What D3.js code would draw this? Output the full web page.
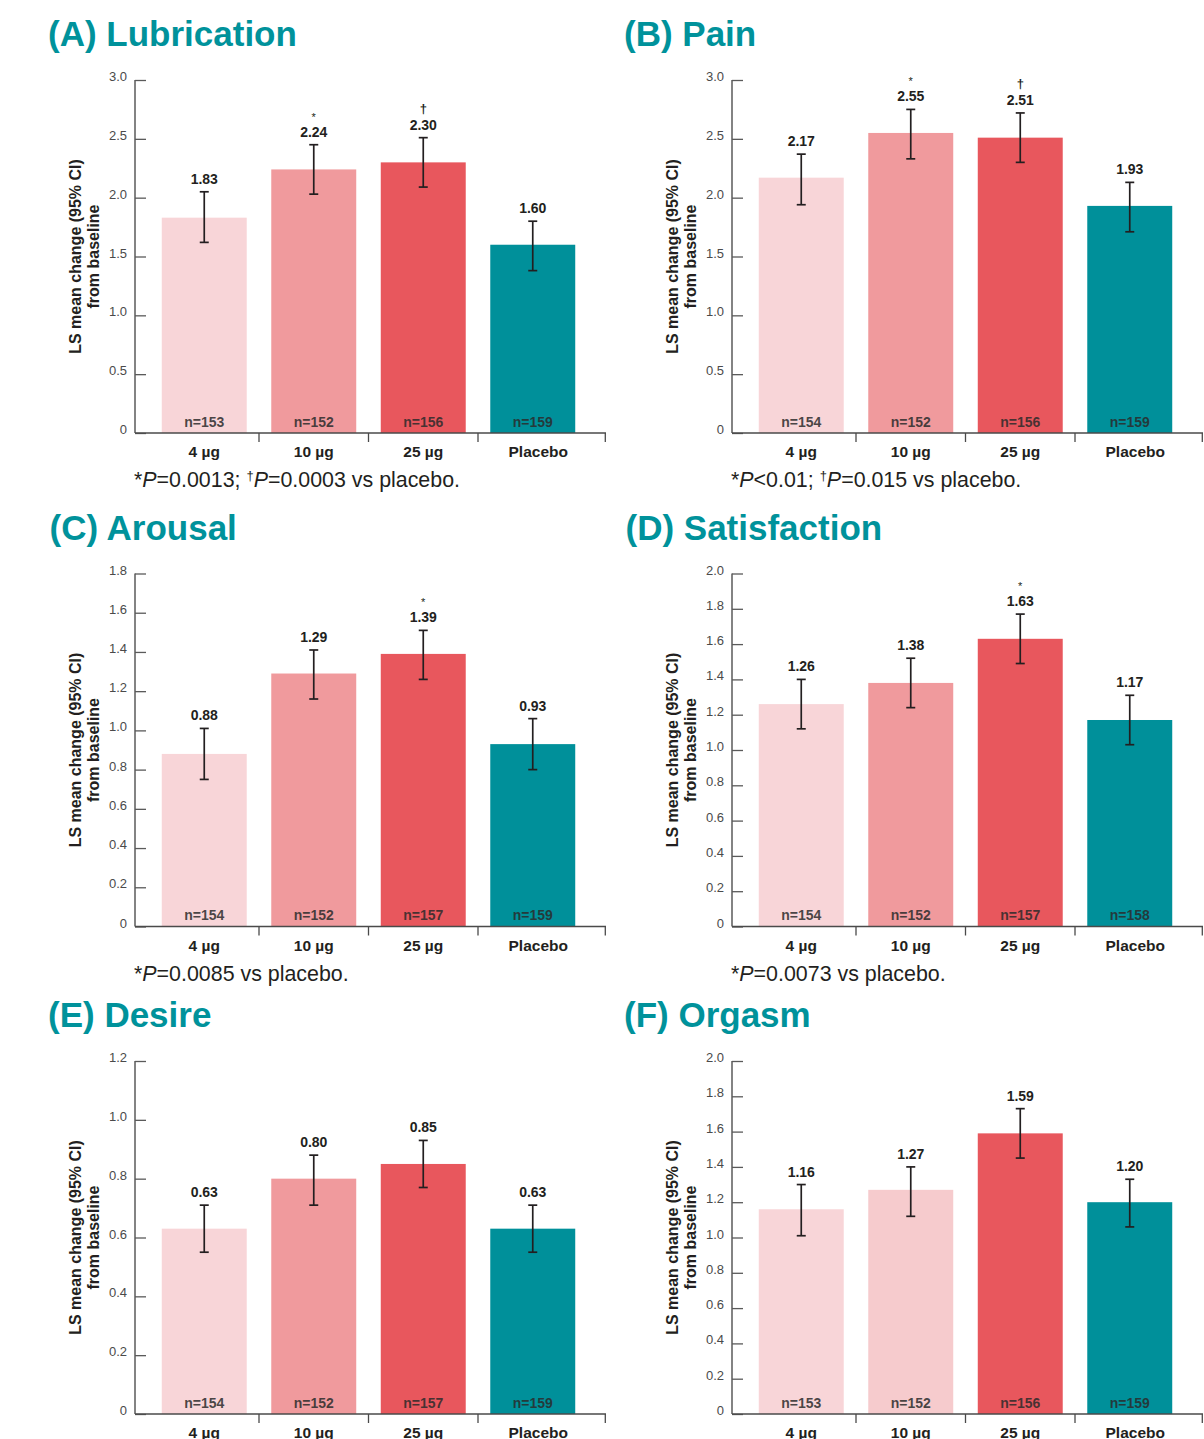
<!DOCTYPE html>
<html>
<head>
<meta charset="utf-8">
<script src="https://cdn.jsdelivr.net/npm/d3@7"></script>
<style>
  html, body { margin: 0; padding: 0; background: #fff; }
  svg { display: block; font-family: "Liberation Sans", Arial, Helvetica, sans-serif; }
</style>
</head>
<body>
<svg id="chart" width="1204" height="1439"></svg>
<script>
// ---------------- DATA ----------------
const categories = ["4 µg", "10 µg", "25 µg", "Placebo"];

const panelTitles = ["(A) Lubrication", "(B) Pain", "(C) Arousal", "(D) Satisfaction", "(E) Desire", "(F) Orgasm"];

const yMax = [3.0, 3.0, 1.8, 2.0, 1.2, 2.0];
const yTickStep = [0.5, 0.5, 0.2, 0.2, 0.2, 0.2];

const lubricationValues = [1.83, 2.24, 2.30, 1.60];
const lubricationLow    = [1.62, 2.03, 2.09, 1.38];
const lubricationHigh   = [2.05, 2.45, 2.51, 1.80];
const lubricationN      = [153, 152, 156, 159];
const lubricationMarks  = ["", "*", "†", ""];

const painValues = [2.17, 2.55, 2.51, 1.93];
const painLow    = [1.94, 2.33, 2.30, 1.71];
const painHigh   = [2.37, 2.75, 2.72, 2.13];
const painN      = [154, 152, 156, 159];
const painMarks  = ["", "*", "†", ""];

const arousalValues = [0.88, 1.29, 1.39, 0.93];
const arousalLow    = [0.75, 1.16, 1.26, 0.80];
const arousalHigh   = [1.01, 1.41, 1.51, 1.06];
const arousalN      = [154, 152, 157, 159];
const arousalMarks  = ["", "", "*", ""];

const satisfactionValues = [1.26, 1.38, 1.63, 1.17];
const satisfactionLow    = [1.12, 1.24, 1.49, 1.03];
const satisfactionHigh   = [1.40, 1.52, 1.77, 1.31];
const satisfactionN      = [154, 152, 157, 158];
const satisfactionMarks  = ["", "", "*", ""];

const desireValues = [0.63, 0.80, 0.85, 0.63];
const desireLow    = [0.55, 0.71, 0.77, 0.55];
const desireHigh   = [0.71, 0.88, 0.93, 0.71];
const desireN      = [154, 152, 157, 159];
const desireMarks  = ["", "", "", ""];

const orgasmValues = [1.16, 1.27, 1.59, 1.20];
const orgasmLow    = [1.01, 1.12, 1.45, 1.06];
const orgasmHigh   = [1.30, 1.40, 1.73, 1.33];
const orgasmN      = [153, 152, 156, 159];
const orgasmMarks  = ["", "", "", ""];

// footnote pieces: [text, italic?, superscript?]
const footnotes = [
  [["*",0,0],["P",1,0],["=0.0013; ",0,0],["†",0,1],["P",1,0],["=0.0003 vs placebo.",0,0]],
  [["*",0,0],["P",1,0],["<0.01; ",0,0],["†",0,1],["P",1,0],["=0.015 vs placebo.",0,0]],
  [["*",0,0],["P",1,0],["=0.0085 vs placebo.",0,0]],
  [["*",0,0],["P",1,0],["=0.0073 vs placebo.",0,0]],
  [],
  []
];

const barColors = ["#f8d5d8", "#f09a9d", "#e8575d", "#00909a"];
const barColorsF = ["#f8d5d8", "#f6cbcd", "#e8575d", "#00909a"];

// ---------------- LAYOUT ----------------
const panels = [
  {v: lubricationValues, lo: lubricationLow, hi: lubricationHigh, n: lubricationN, m: lubricationMarks, colors: barColors},
  {v: painValues, lo: painLow, hi: painHigh, n: painN, m: painMarks, colors: barColors},
  {v: arousalValues, lo: arousalLow, hi: arousalHigh, n: arousalN, m: arousalMarks, colors: barColors},
  {v: satisfactionValues, lo: satisfactionLow, hi: satisfactionHigh, n: satisfactionN, m: satisfactionMarks, colors: barColors},
  {v: desireValues, lo: desireLow, hi: desireHigh, n: desireN, m: desireMarks, colors: barColors},
  {v: orgasmValues, lo: orgasmLow, hi: orgasmHigh, n: orgasmN, m: orgasmMarks, colors: barColorsF}
];

const colX = [135, 732];
const titleX = [48, 624];
const rowTop = [80, 573.5, 1061];
const plotH = 353;
const axisW = 471;
const textColor = "#231f20";
const teal = "#00929b";

const svg = d3.select("#chart");

panels.forEach((p, i) => {
  const x0 = colX[i % 2];
  const top = rowTop[Math.floor(i / 2)];
  const zero = top + plotH;

  const g = svg.append("g");

  // Title
  g.append("text")
    .attr("x", titleX[i % 2] + (i === 2 || i === 3 ? 1.5 : 0))
    .attr("y", top - 34)
    .attr("fill", teal)
    .attr("font-size", 35)
    .attr("font-weight", "bold")
    .text(panelTitles[i]);

  const y = d3.scaleLinear().domain([0, yMax[i]]).range([zero, top]);
  const x = d3.scaleBand().domain(categories)
    .range([x0 + 14.5, x0 + 452.5])
    .paddingInner(0.224).paddingOuter(0.112);

  // Bars
  g.selectAll("rect.bar").data(p.v).join("rect")
    .attr("class", "bar")
    .attr("x", (d, j) => x(categories[j]))
    .attr("width", x.bandwidth())
    .attr("y", d => y(d))
    .attr("height", d => zero - y(d))
    .attr("fill", (d, j) => p.colors[j]);

  // Y axis
  const ticks = d3.range(0, yMax[i] + 1e-9, yTickStep[i]);
  const fmt = v => v === 0 ? "0" : d3.format(".1f")(v);
  const yAxis = d3.axisRight(y).tickValues(ticks).tickSize(11).tickFormat("");
  const ya = g.append("g").attr("transform", `translate(${x0},0)`).call(yAxis);
  ya.select(".domain").attr("stroke", "#5a5a5a").attr("stroke-width", 1.5)
    .attr("d", `M0,${top}V${zero}`);
  ya.selectAll(".tick line").attr("stroke", "#5a5a5a").attr("stroke-width", 1.3);
  g.selectAll("text.ytl").data(ticks).join("text")
    .attr("class", "ytl")
    .attr("x", x0 - 8)
    .attr("y", d => y(d) + 1)
    .attr("text-anchor", "end")
    .attr("font-size", 13)
    .attr("fill", "#4a4a4a")
    .text(fmt);

  // X baseline and separators
  g.append("line")
    .attr("x1", x0).attr("x2", x0 + axisW)
    .attr("y1", zero).attr("y2", zero)
    .attr("stroke", "#4a4a4a").attr("stroke-width", 1.4);
  const seps = categories.slice(1).map(c => x(c) - x.step() * x.paddingInner() / 2).concat([x0 + axisW - 0.7]);
  g.selectAll("line.sep").data(seps).join("line")
    .attr("class", "sep")
    .attr("x1", d => d).attr("x2", d => d)
    .attr("y1", zero).attr("y2", zero + 9)
    .attr("stroke", "#4a4a4a").attr("stroke-width", 1.3);

  // Category labels (last label is centred a bit to the right, as in the original)
  g.selectAll("text.cat").data(categories).join("text")
    .attr("class", "cat")
    .attr("x", (c, j) => x(c) + x.bandwidth() / 2 + (j === categories.length - 1 ? 5.5 : 0))
    .attr("y", zero + 24)
    .attr("text-anchor", "middle")
    .attr("font-size", 15.5)
    .attr("font-weight", "bold")
    .attr("fill", textColor)
    .text(c => c);

  // n labels
  g.selectAll("text.nl").data(p.n).join("text")
    .attr("class", "nl")
    .attr("x", (d, j) => x(categories[j]) + x.bandwidth() / 2)
    .attr("y", zero - 6.5)
    .attr("text-anchor", "middle")
    .attr("font-size", 14)
    .attr("font-weight", "bold")
    .attr("fill", "#2b2b2b")
    .attr("fill-opacity", 0.85)
    .text(d => "n=" + d);

  // Error bars
  const cx = j => x(categories[j]) + x.bandwidth() / 2;
  p.v.forEach((v, j) => {
    const eg = g.append("g").attr("stroke", textColor).attr("stroke-width", 1.7);
    eg.append("line").attr("x1", cx(j)).attr("x2", cx(j)).attr("y1", y(p.lo[j])).attr("y2", y(p.hi[j]));
    eg.append("line").attr("x1", cx(j) - 4.5).attr("x2", cx(j) + 4.5).attr("y1", y(p.lo[j])).attr("y2", y(p.lo[j]));
    eg.append("line").attr("x1", cx(j) - 4.5).attr("x2", cx(j) + 4.5).attr("y1", y(p.hi[j])).attr("y2", y(p.hi[j]));
    // value label
    g.append("text")
      .attr("x", cx(j)).attr("y", y(p.hi[j]) - 8)
      .attr("text-anchor", "middle")
      .attr("font-size", 14).attr("font-weight", "bold")
      .attr("fill", textColor)
      .text(d3.format(".2f")(v));
    if (p.m[j] === "*") {
      g.append("text")
        .attr("x", cx(j)).attr("y", y(p.hi[j]) - 24)
        .attr("text-anchor", "middle")
        .attr("font-size", 11)
        .attr("fill", textColor)
        .text("*");
    } else if (p.m[j] === "†") {
      g.append("text")
        .attr("x", cx(j)).attr("y", y(p.hi[j]) - 25)
        .attr("text-anchor", "middle")
        .attr("font-size", 13)
        .attr("font-weight", "bold")
        .attr("fill", textColor)
        .text("†");
    }
  });

  // Y axis title
  const ty = (top + zero) / 2;
  g.append("text")
    .attr("transform", `translate(${x0 - 54},${ty}) rotate(-90)`)
    .attr("text-anchor", "middle")
    .attr("font-size", 16).attr("font-weight", "bold")
    .attr("fill", textColor)
    .text("LS mean change (95% CI)");
  g.append("text")
    .attr("transform", `translate(${x0 - 36},${ty}) rotate(-90)`)
    .attr("text-anchor", "middle")
    .attr("font-size", 16).attr("font-weight", "bold")
    .attr("fill", textColor)
    .text("from baseline");

  // Footnote
  if (footnotes[i].length) {
    const ft = g.append("text")
      .attr("x", x0 - 1).attr("y", zero + 54)
      .attr("font-size", 21.4)
      .attr("fill", textColor);
    footnotes[i].forEach(([t, it, sup]) => {
      const ts = ft.append("tspan").text(t);
      if (it) ts.attr("font-style", "italic");
      if (sup) ts.attr("font-size", 13).attr("baseline-shift", "super");
    });
  }
});
</script>
</body>
</html>
